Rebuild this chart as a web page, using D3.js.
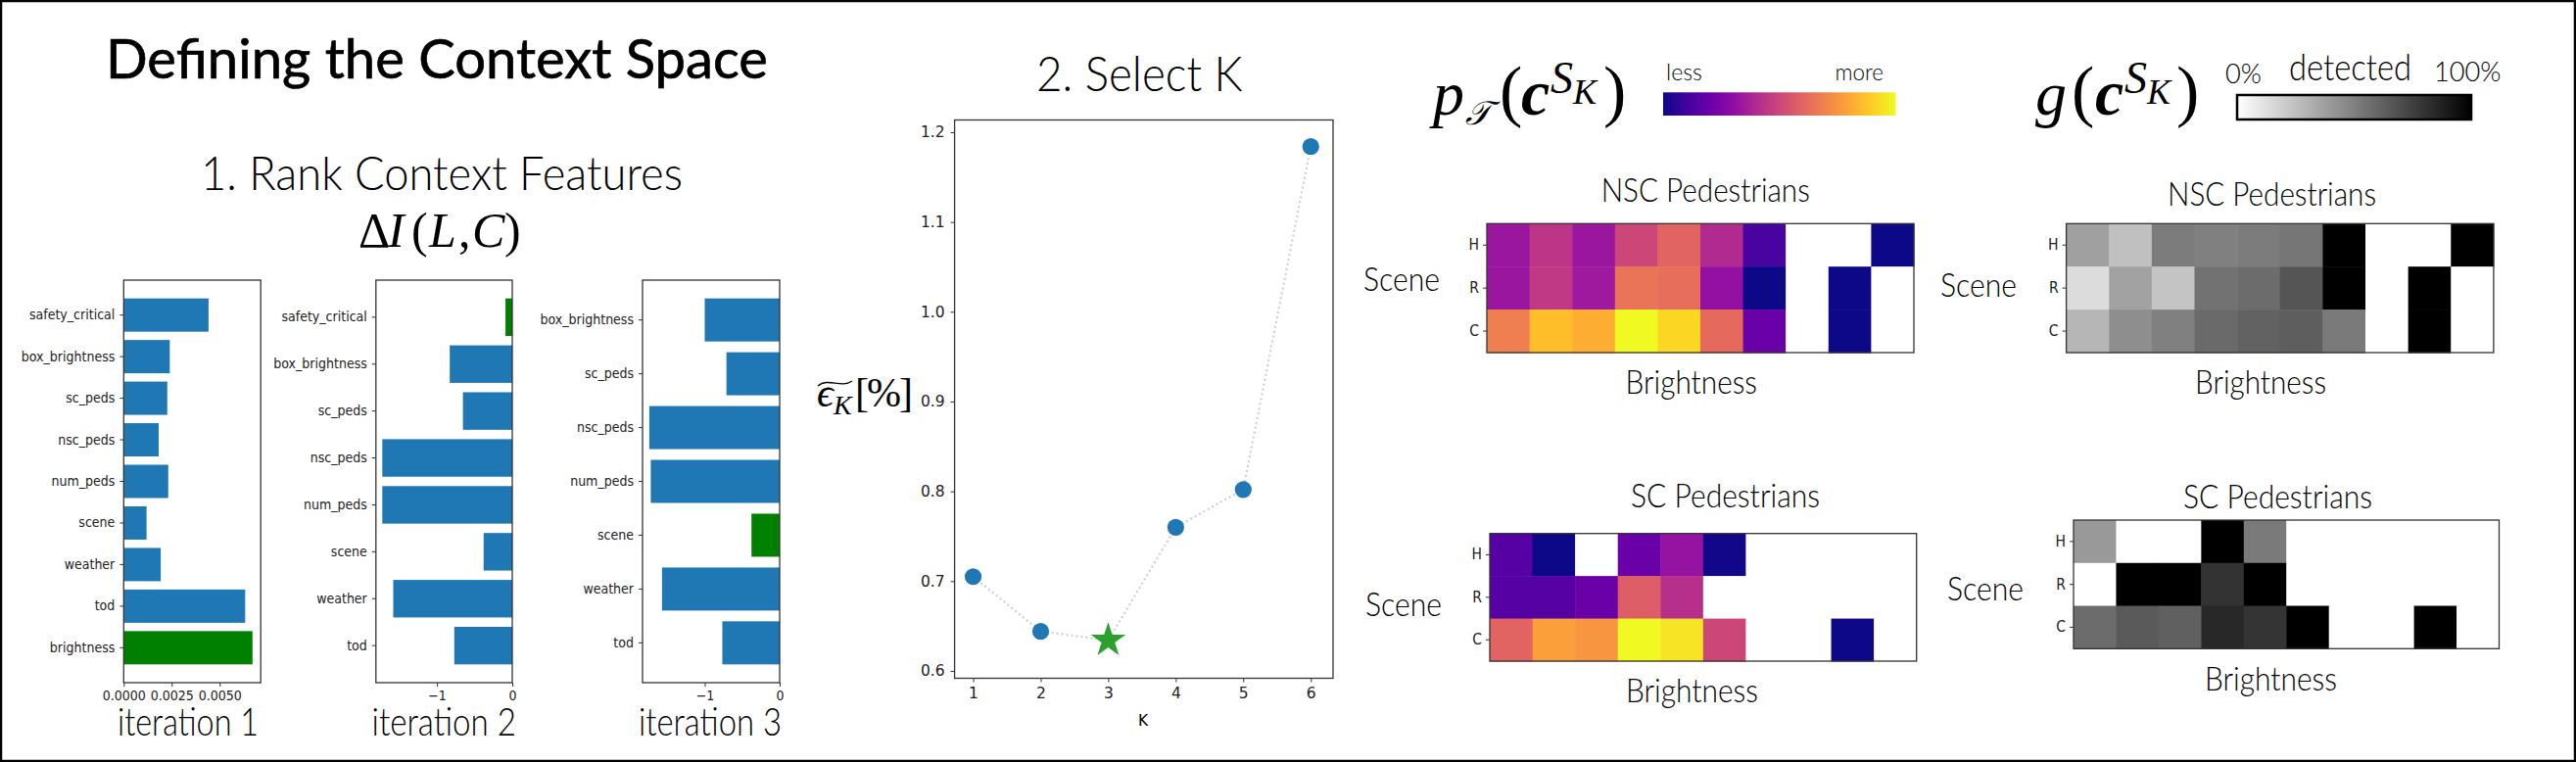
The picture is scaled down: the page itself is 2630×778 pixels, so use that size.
<!DOCTYPE html>
<html>
<head>
<meta charset="utf-8">
<script src="https://cdn.jsdelivr.net/npm/d3@7"></script>
<style>
  html, body { margin: 0; padding: 0; background: #fff; }
  svg { display: block; }
  text { fill: #000; }
  .thin { font-family: Lato, sans-serif; font-weight: 300; }
  .math { font-family: "Liberation Serif", serif; font-style: italic; }
  .tick text { font-family: "DejaVu Sans Condensed", "DejaVu Sans", sans-serif; fill: #222; }
  .tick line, .domain { stroke: #333; }
</style>
</head>
<body>
<svg id="fig" width="2630" height="778"></svg>
<script>
const features1 = ["safety_critical", "box_brightness", "sc_peds", "nsc_peds", "num_peds", "scene", "weather", "tod", "brightness"];
const values1 = [0.00442, 0.0024, 0.00227, 0.00182, 0.00232, 0.00119, 0.00193, 0.00633, 0.00671];
const picked1 = "brightness";

const features2 = ["safety_critical", "box_brightness", "sc_peds", "nsc_peds", "num_peds", "scene", "weather", "tod"];
const values2 = [-0.09, -0.83, -0.655, -1.725, -1.725, -0.38, -1.58, -0.77];
const picked2 = "safety_critical";

const features3 = ["box_brightness", "sc_peds", "nsc_peds", "num_peds", "scene", "weather", "tod"];
const values3 = [-1.0, -0.71, -1.74, -1.72, -0.376, -1.57, -0.765];
const picked3 = "scene";

const kValues = [1, 2, 3, 4, 5, 6];
const kErrors = [0.705, 0.644, 0.634, 0.76, 0.802, 1.184];
const bestK = 3;

const scenes = ["H", "R", "C"];
const brightnessBins = d3.range(10);

// share of samples per cell, null = nothing in that cell
const plasmaNsc = [
  [0.33, 0.44, 0.33, 0.5, 0.6, 0.4, 0.12, null, null, 0],
  [0.33, 0.45, 0.34, 0.65, 0.63, 0.31, 0, null, 0, null],
  [0.68, 0.86, 0.82, 1, 0.92, 0.62, 0.2, null, 0, null]
];
const plasmaSc = [
  [0.15, 0, null, 0.2, 0.32, 0.01, null, null, null, null],
  [0.15, 0.15, 0.2, 0.58, 0.42, null, null, null, null, null],
  [0.6, 0.78, 0.75, 1, 0.95, 0.5, null, null, 0, null]
];
// detection rate per cell
const detectedNsc = [
  [0.373, 0.247, 0.514, 0.498, 0.514, 0.537, 1, null, null, 1],
  [0.137, 0.365, 0.231, 0.553, 0.576, 0.667, 1, null, 1, null],
  [0.286, 0.443, 0.498, 0.584, 0.616, 0.631, 0.522, null, 1, null]
];
const detectedSc = [
  [0.4, null, null, 1, 0.52, null, null, null, null, null],
  [null, 1, 1, 0.8, 1, null, null, null, null, null],
  [0.576, 0.647, 0.624, 0.843, 0.796, 1, null, null, 1, null]
];

const svg = d3.select("#fig");
svg.append("rect").attr("x", 0).attr("y", 0).attr("width", 2630).attr("height", 778).attr("fill", "#fff");

// text squeezed into the span it has in the picture, the original font is not here
function label(txt, x0, x1, y, size, cls = "thin") {
  return svg.append("text").attr("class", cls)
    .attr("x", x0).attr("y", y)
    .attr("textLength", x1 - x0).attr("lengthAdjust", "spacingAndGlyphs")
    .attr("font-size", size).text(txt);
}

function frame(x0, x1, y0, y1) {
  svg.append("rect").attr("x", x0).attr("y", y0).attr("width", x1 - x0).attr("height", y1 - y0)
    .attr("fill", "none").attr("stroke", "#333").attr("stroke-width", 1.3);
}

// Bars
function barPanel(features, values, picked, box, domain, ticks, fmt) {
  const [x0, x1, y0, y1] = box;
  const x = d3.scaleLinear().domain(domain).range([x0, x1]);
  // matplotlib barh: 0.8 bars and 5% margin on the data span
  const y = d3.scaleBand().domain(features).range([y0, y1])
    .paddingInner(0.2).paddingOuter((features.length - 0.2) * 0.05);
  svg.append("g").selectAll("rect").data(features).enter().append("rect")
    .attr("x", (d, i) => Math.min(x(0), x(values[i])))
    .attr("width", (d, i) => Math.abs(x(values[i]) - x(0)))
    .attr("y", d => y(d)).attr("height", y.bandwidth())
    .attr("fill", d => d === picked ? "#008000" : "#1f77b4");
  const ax = svg.append("g").attr("transform", `translate(${x0},0)`)
    .call(d3.axisLeft(y).tickSize(4).tickPadding(5));
  ax.select(".domain").remove();
  ax.selectAll("text").attr("font-size", 14);
  const bx = svg.append("g").attr("transform", `translate(0,${y1})`)
    .call(d3.axisBottom(x).tickValues(ticks).tickFormat(fmt).tickSize(4).tickPadding(4));
  bx.select(".domain").remove();
  bx.selectAll("text").attr("font-size", 14);
  frame(x0, x1, y0, y1);
}

barPanel(features1, values1, picked1, [126.3, 266.2, 286, 697], [0, 0.00714], [0, 0.0025, 0.005], d3.format(".4f"));
barPanel(features2, values2, picked2, [383.8, 523, 286, 697], [-1.81, 0], [-1, 0], d3.format("d"));
barPanel(features3, values3, picked3, [656, 796, 286, 697], [-1.83, 0], [-1, 0], d3.format("d"));

// Line
const kx = d3.scaleLinear().domain([0.725, 6.33]).range([974.6, 1361]);
const ky = d3.scaleLinear().domain([0.5918, 1.2136]).range([692.5, 122.5]);
const kLine = d3.line().x((d, i) => kx(kValues[i])).y(d => ky(d));
svg.append("path").attr("d", kLine(kErrors)).attr("fill", "none")
  .attr("stroke", "#d0d0d0").attr("stroke-width", 2.2).attr("stroke-dasharray", "2,3");
svg.append("g").selectAll("circle").data(kValues.filter(k => k !== bestK)).enter().append("circle")
  .attr("cx", d => kx(d)).attr("cy", d => ky(kErrors[kValues.indexOf(d)]))
  .attr("r", 8.6).attr("fill", "#1f77b4");
svg.append("path").attr("d", d3.symbol(d3.symbolStar, 390)())
  .attr("transform", `translate(${kx(bestK)},${ky(kErrors[kValues.indexOf(bestK)])})`)
  .attr("fill", "#2ca02c");
const kxAxis = svg.append("g").attr("transform", "translate(0,692.5)")
  .call(d3.axisBottom(kx).tickValues(kValues).tickFormat(d3.format("d")).tickSize(4).tickPadding(5));
const kyAxis = svg.append("g").attr("transform", "translate(974.6,0)")
  .call(d3.axisLeft(ky).tickValues([0.6, 0.7, 0.8, 0.9, 1.0, 1.1, 1.2]).tickFormat(d3.format(".1f")).tickSize(4).tickPadding(6));
[kxAxis, kyAxis].forEach(a => {
  a.select(".domain").remove();
  a.selectAll("text").attr("font-size", 15.5).style("font-family", "'DejaVu Sans'");
});
frame(974.6, 1361, 122.5, 692.5);
svg.append("text").attr("x", 1167).attr("y", 741).attr("text-anchor", "middle")
  .attr("font-family", "DejaVu Sans").attr("font-size", 15.5).attr("fill", "#222").text("K");

// Heatmaps
const plasma = d3.scaleSequential(d3.interpolatePlasma).domain([0, 1]);
const detectedColor = d3.scaleLinear().domain([0, 1]).range(["#ffffff", "#000000"]);

function heatmap(grid, box, color) {
  const [x0, x1, y0, y1] = box;
  const x = d3.scaleBand().domain(brightnessBins).range([x0, x1]);
  const y = d3.scaleBand().domain(scenes).range([y0, y1]);
  const rows = svg.append("g").selectAll("g").data(grid).enter().append("g")
    .attr("transform", (d, i) => `translate(0,${y(scenes[i])})`);
  rows.selectAll("rect").data(d => d).enter().append("rect")
    .attr("x", (d, i) => x(i)).attr("width", x.bandwidth() + 0.5).attr("height", y.bandwidth() + 0.5)
    .attr("fill", d => d === null ? "#fff" : color(d));
  const ax = svg.append("g").attr("transform", `translate(${x0},0)`)
    .call(d3.axisLeft(y).tickSize(4).tickPadding(4));
  ax.select(".domain").remove();
  ax.selectAll("text").attr("font-size", 15.5);
  frame(x0, x1, y0, y1);
}

heatmap(plasmaNsc, [1518, 1954, 228.3, 360], plasma);
heatmap(plasmaSc, [1521, 1956.7, 544.7, 675], plasma);
heatmap(detectedNsc, [2109.6, 2545.9, 228.3, 360], detectedColor);
heatmap(detectedSc, [2117, 2551.5, 531, 662.3], detectedColor);

// Colour legends
function legendBar(id, color, x0, x1, y0, y1) {
  const defs = svg.append("defs");
  const grad = defs.append("linearGradient").attr("id", id);
  d3.range(0, 1.01, 0.1).forEach(t => {
    grad.append("stop").attr("offset", t).attr("stop-color", color(t));
  });
  return svg.append("rect").attr("x", x0).attr("y", y0).attr("width", x1 - x0).attr("height", y1 - y0)
    .attr("fill", `url(#${id})`);
}
legendBar("plasmaGrad", plasma, 1698, 1935.5, 94.3, 118);
legendBar("greyGrad", detectedColor, 2284, 2523, 97, 122)
  .attr("stroke", "#000").attr("stroke-width", 2.5);

// Text
label("Defining the Context Space", 108, 784, 80, 57).style("font-weight", 400)
  .attr("stroke", "#000").attr("stroke-width", 0.7);
label("1. Rank Context Features", 205, 697, 194, 48);
label("2. Select K", 1058, 1268.6, 93, 49);
label("iteration 1", 120, 264, 751, 39);
label("iteration 2", 379.5, 527, 751, 39);
label("iteration 3", 652, 798, 751, 39);
label("less", 1701, 1738, 81.7, 24);
label("more", 1873.5, 1923, 81.7, 24);
label("0%", 2272, 2309, 85, 28);
label("detected", 2337, 2462, 82, 37);
label("100%", 2485, 2553.5, 83, 28);
label("NSC Pedestrians", 1634.7, 1847.8, 205.7, 33);
label("Brightness", 1659.6, 1794, 402, 33);
label("Scene", 1392, 1470, 297, 33);
label("SC Pedestrians", 1665, 1858, 518, 33);
label("Brightness", 1660, 1795, 717, 33);
label("Scene", 1394, 1472, 629, 33);
label("NSC Pedestrians", 2213, 2426, 210, 33);
label("Brightness", 2241, 2375, 402, 33);
label("Scene", 1981, 2059, 303, 33);
label("SC Pedestrians", 2229, 2422, 519, 33);
label("Brightness", 2251, 2386, 705, 33);
label("Scene", 1988, 2066, 613, 33);

// Math labels, every glyph placed on its own: the formula font is not here
function mathText(parts) {
  const t = svg.append("text").attr("class", "math");
  parts.forEach(p => {
    const s = t.append("tspan").attr("x", p.x).attr("y", p.y).attr("font-size", p.size).text(p.t);
    if (p.bold) s.attr("font-weight", 700);
    if (p.upright) s.attr("font-style", "normal");
  });
}
mathText([
  { t: "Δ", x: 366, y: 252, size: 50, upright: true }, { t: "I", x: 396, y: 252, size: 50 },
  { t: "(", x: 420, y: 252, size: 50, upright: true }, { t: "L", x: 438, y: 252, size: 50 },
  { t: ",", x: 468, y: 252, size: 50, upright: true }, { t: "C", x: 482, y: 252, size: 50 },
  { t: ")", x: 515, y: 252, size: 50, upright: true }
]);
mathText([
  { t: "p", x: 1463, y: 117, size: 64 }, { t: "𝒯", x: 1496, y: 127, size: 34 },
  { t: "(", x: 1531, y: 116, size: 70, upright: true }, { t: "c", x: 1553, y: 117, size: 66, bold: true },
  { t: "S", x: 1583, y: 95, size: 46 }, { t: "K", x: 1606, y: 106, size: 36 },
  { t: ")", x: 1637, y: 116, size: 70, upright: true }
]);
mathText([
  { t: "g", x: 2078, y: 117, size: 64 },
  { t: "(", x: 2115, y: 116, size: 70, upright: true }, { t: "c", x: 2139, y: 117, size: 66, bold: true },
  { t: "S", x: 2169, y: 95, size: 46 }, { t: "K", x: 2192, y: 106, size: 36 },
  { t: ")", x: 2222, y: 116, size: 70, upright: true }
]);
mathText([
  { t: "ϵ", x: 834, y: 415, size: 42 }, { t: "K", x: 851, y: 423, size: 28 },
  { t: "[", x: 873, y: 415, size: 42, upright: true }, { t: "%", x: 885, y: 415, size: 42, upright: true },
  { t: "]", x: 918, y: 415, size: 42, upright: true }
]);
const tilde = d3.path();
tilde.moveTo(835, 394);
tilde.bezierCurveTo(846, 385, 858, 397, 870, 389);
svg.append("path").attr("d", tilde.toString()).attr("fill", "none").attr("stroke", "#000").attr("stroke-width", 1.4);

// Outer border
svg.append("rect").attr("x", 1).attr("y", 1).attr("width", 2628).attr("height", 776)
  .attr("fill", "none").attr("stroke", "#000").attr("stroke-width", 2.5);
</script>
</body>
</html>
